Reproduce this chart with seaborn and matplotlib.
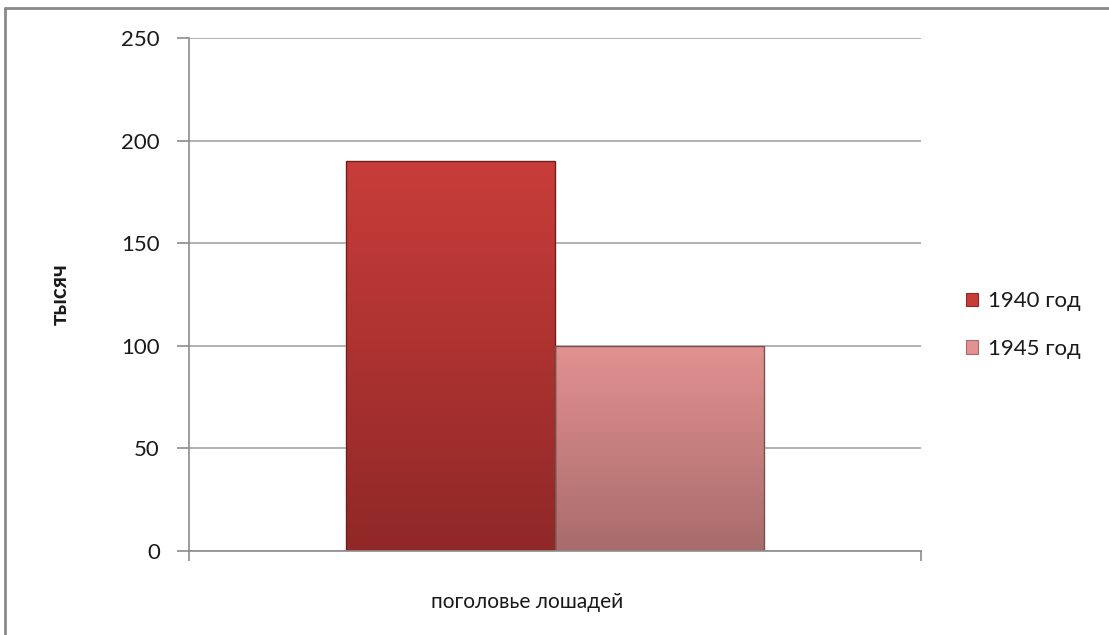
import matplotlib
matplotlib.use("Agg")
import matplotlib.pyplot as plt
import seaborn as sns
import pandas as pd
import numpy as np
from matplotlib.colors import LinearSegmentedColormap
from matplotlib.lines import Line2D
from matplotlib.patches import Patch

# data
categories = ["поголовье лошадей"]
years = ["1940 год", "1945 год"]
values = [190, 100]
y_ticks = [0, 50, 100, 150, 200, 250]

# top / bottom colours of the gradient fill
top_colors = ["#c83d3a", "#e29290"]
bottom_colors = ["#8f2827", "#a86c6c"]
edge_colors = ["#6e1f1e", "#7a5050"]

sns.set_theme(style="white")
plt.rcParams["font.family"] = ["Lato", "DejaVu Sans"]

df = pd.DataFrame({"cat": categories * len(years), "year": years, "value": values})

fig = plt.figure(figsize=(11.09, 6.35), dpi=100)
ax = fig.add_axes([0.1704, 0.1323, 0.6601, 0.8079])

sns.barplot(data=df, x="cat", y="value", hue="year", palette=top_colors,
            width=0.572, dodge=True, ax=ax, legend=False, saturation=1)

ax.yaxis.grid(True, color="#a6a6a6", linewidth=1.2)
ax.set_axisbelow(True)

# gradient fill clipped to each bar
for patch, c_top, c_bot, c_edge in zip(ax.patches, top_colors, bottom_colors, edge_colors):
    x0, y0 = patch.get_x(), patch.get_y()
    w, h = patch.get_width(), patch.get_height()
    cmap = LinearSegmentedColormap.from_list("g", [c_bot, c_top])
    grad = np.linspace(0, 1, 256).reshape(-1, 1)
    im = ax.imshow(grad, cmap=cmap, aspect="auto", origin="lower",
                   extent=[x0, x0 + w, y0, y0 + h], zorder=patch.get_zorder() + 0.1)
    im.set_clip_path(patch)
    edge = plt.Rectangle((x0, y0), w, h, fill=False, edgecolor=c_edge,
                         linewidth=1.0, zorder=patch.get_zorder() + 0.2)
    ax.add_patch(edge)

ax.set_xlim(-0.5, 0.5)
ax.set_ylim(0, 250)
ax.set_yticks(y_ticks)

for s in ["top", "right"]:
    ax.spines[s].set_visible(False)
for s in ["left", "bottom"]:
    ax.spines[s].set_color("#8c8c8c")
    ax.spines[s].set_linewidth(1.2)

ax.tick_params(axis="y", which="both", left=True, length=9, width=1.2,
               color="#8c8c8c", labelsize=16, labelcolor="#1a1a1a", pad=12)
ax.set_xticks([-0.5, 0.5])
ax.set_xticklabels(["", ""])
ax.tick_params(axis="x", bottom=True, length=7, width=1.2, color="#8c8c8c")

ax.set_xlabel("")
ax.text(0.462, -0.1, categories[0], transform=ax.transAxes, ha="center", va="center",
        fontsize=15, color="#1a1a1a")
ax.set_ylabel("тысяч", fontsize=16, fontweight="bold", color="#1a1a1a", labelpad=36)

handles = [Patch(facecolor=c, edgecolor=b, linewidth=0.8) for c, b in zip(top_colors, bottom_colors)]
leg = fig.legend(handles, years, loc="center left", bbox_to_anchor=(0.853, 0.488),
                 frameon=False, fontsize=16, handlelength=0.55, handleheight=0.55,
                 handletextpad=0.45, labelspacing=1.25)
for t in leg.get_texts():
    t.set_color("#1a1a1a")

# outer frame lines (left and top) of the chart area
fig.add_artist(Line2D([5 / 1109, 5 / 1109], [0, 1 - 8 / 635], transform=fig.transFigure,
                      color="#8a8a8a", linewidth=2))
fig.add_artist(Line2D([5 / 1109, 1], [1 - 8 / 635, 1 - 8 / 635], transform=fig.transFigure,
                      color="#8a8a8a", linewidth=2))

fig.savefig("out.png", dpi=100)
